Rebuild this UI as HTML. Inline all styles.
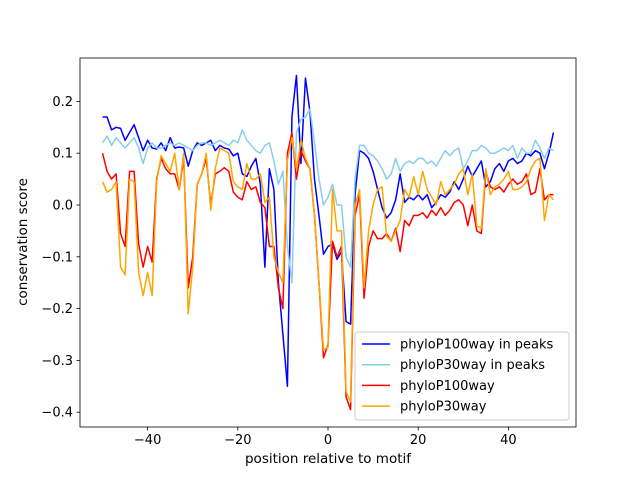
<!DOCTYPE html>
<html><head><meta charset="utf-8"><style>
body{margin:0;background:#fff;}
svg text{font-family:"DejaVu Sans","Liberation Sans",sans-serif;}
</style></head><body>
<svg id="chart" width="640" height="480" xmlns="http://www.w3.org/2000/svg">
<rect width="640" height="480" fill="#fff"/>
<g id="plot"></g>
<g id="axes"></g>
</svg>
<script>
const xStart = -50;
const xTicks = [-40, -20, 0, 20, 40];
const yTicks = [-0.4, -0.3, -0.2, -0.1, 0.0, 0.1, 0.2];
const yTickLabels = ["−0.4","−0.3","−0.2","−0.1","0.0","0.1","0.2"];
const seriesNames = ["phyloP100way in peaks","phyloP30way in peaks","phyloP100way","phyloP30way"];
const seriesColors = ["#0000ff","#87ceeb","#ff0000","#ffa500"];
const p100peaks = [0.17,0.17,0.145,0.15,0.148,0.125,0.14,0.155,0.13,0.105,0.125,0.11,0.108,0.12,0.105,0.13,0.11,0.112,0.11,0.075,0.105,0.12,0.115,0.12,0.125,0.105,0.115,0.11,0.108,0.095,0.1,0.06,0.055,0.075,0.09,0.04,-0.12,0.07,0.03,-0.15,-0.25,-0.35,0.17,0.25,0.08,0.245,0.18,0.05,-0.02,-0.095,-0.08,-0.075,-0.105,-0.09,-0.225,-0.23,0.02,0.105,0.1,0.09,0.065,0.03,-0.005,-0.025,-0.015,0.01,0.06,0.005,0.015,0.01,0.02,0.01,0.02,-0.005,0.005,0.02,0.015,0.025,0.045,0.03,0.05,0.075,0.055,0.07,0.085,0.035,0.045,0.07,0.08,0.065,0.085,0.09,0.08,0.085,0.1,0.095,0.105,0.1,0.07,0.1,0.14];
const p30peaks = [0.12,0.133,0.115,0.13,0.12,0.11,0.12,0.13,0.11,0.08,0.11,0.12,0.11,0.11,0.115,0.12,0.115,0.12,0.115,0.11,0.105,0.115,0.12,0.12,0.115,0.12,0.125,0.12,0.115,0.125,0.12,0.145,0.125,0.115,0.105,0.1,0.115,0.12,0.085,0.04,0.065,-0.08,-0.15,0.14,0.165,0.17,0.185,0.12,0.05,0.0,0.015,0.04,0.0,0.0,-0.1,-0.12,0.05,0.115,0.115,0.1,0.095,0.085,0.07,0.05,0.06,0.09,0.065,0.08,0.085,0.08,0.09,0.09,0.08,0.085,0.075,0.09,0.105,0.095,0.105,0.11,0.07,0.085,0.105,0.105,0.115,0.11,0.1,0.1,0.105,0.11,0.105,0.115,0.09,0.11,0.1,0.1,0.125,0.11,0.09,0.11,0.105];
const p100 = [0.1,0.065,0.05,0.06,-0.055,-0.08,0.065,0.065,-0.075,-0.12,-0.08,-0.11,0.05,0.09,0.07,0.06,0.06,0.03,0.09,-0.16,-0.1,0.04,0.06,0.09,0.0,0.06,0.065,0.072,0.065,0.025,0.015,0.01,0.045,0.03,0.035,0.005,-0.005,-0.08,-0.08,-0.16,-0.2,0.1,0.14,0.05,0.105,0.085,0.07,-0.02,-0.15,-0.295,-0.27,-0.07,-0.1,-0.08,-0.37,-0.395,-0.02,0.02,-0.18,-0.08,-0.05,-0.065,-0.065,-0.055,-0.07,-0.045,-0.09,-0.03,-0.04,-0.02,-0.02,-0.015,-0.025,-0.01,-0.02,-0.005,-0.02,-0.01,0.005,0.01,0.0,-0.04,0.0,-0.05,-0.055,0.065,0.035,0.03,0.035,0.025,0.04,0.05,0.04,0.045,0.06,0.02,0.025,0.07,0.01,0.02,0.02];
const p30 = [0.045,0.025,0.03,0.045,-0.12,-0.135,0.05,0.045,-0.13,-0.175,-0.13,-0.175,0.045,0.095,0.08,0.065,0.1,0.03,0.1,-0.21,-0.12,0.04,0.06,0.1,-0.01,0.07,0.11,0.105,0.1,0.045,0.035,0.03,0.08,0.05,0.05,0.06,0.005,0.015,-0.1,-0.13,-0.15,0.085,0.13,0.07,0.125,0.09,0.07,-0.02,-0.15,-0.28,-0.275,0.03,-0.05,-0.05,-0.36,-0.38,0.0,0.03,-0.16,-0.05,0.0,0.03,0.035,-0.06,-0.07,-0.05,-0.03,0.03,0.015,0.055,0.02,0.065,0.03,0.015,0.0,0.045,0.02,0.03,0.04,0.06,0.07,0.02,0.06,-0.04,-0.045,0.07,0.02,0.035,0.04,0.05,0.065,0.03,0.03,0.035,0.045,0.07,0.085,0.09,-0.03,0.02,0.01];
const allSeries = [p100peaks, p30peaks, p100, p30];

const L=80,R=576,T=58,B=427, xMin=-55,xMax=55,yMin=-0.4286,yMax=0.2838;
const sx = v => L + (v - xMin) / (xMax - xMin) * (R - L);
const sy = v => B - (v - yMin) / (yMax - yMin) * (B - T);
const NS="http://www.w3.org/2000/svg";
const plot=document.getElementById('plot'), axes=document.getElementById('axes');
function mk(tag, attrs, parent){const e=document.createElementNS(NS,tag);for(const k in attrs)e.setAttribute(k,attrs[k]);parent.appendChild(e);return e;}

allSeries.forEach((s,i)=>{
  const pts=s.map((v,j)=>sx(xStart+j).toFixed(2)+','+sy(v).toFixed(2)).join(' ');
  const pl=mk('polyline',{points:pts,fill:'none',stroke:seriesColors[i],'stroke-width':1.5,'stroke-linejoin':'round'},plot);
  
  
});

const frame=mk('rect',{x:L,y:T,width:R-L,height:B-T,fill:'none',stroke:'#000','stroke-width':0.8},axes);



xTicks.forEach(t=>{
  const x=sx(t);
  const tk=mk('line',{x1:x,x2:x,y1:B,y2:B+3.5,stroke:'#000','stroke-width':0.8},axes);
  
  
  const lb=mk('text',{x:x,y:B+17,'text-anchor':'middle','font-size':13,fill:'#000'},axes);
  lb.textContent=t<0?'−'+Math.abs(t):String(t);
  
  
});
yTicks.forEach((t,i)=>{
  const y=sy(t);
  const tk=mk('line',{x1:L-3.5,x2:L,y1:y,y2:y,stroke:'#000','stroke-width':0.8},axes);
  
  
  const lb=mk('text',{x:L-7,y:y+4.5,'text-anchor':'end','font-size':13,fill:'#000'},axes);
  lb.textContent=yTickLabels[i];
  
  
});
const xt=mk('text',{x:(L+R)/2,y:463,'text-anchor':'middle','font-size':13.5},axes);
xt.textContent='position relative to motif';


const yt=mk('text',{x:0,y:0,'text-anchor':'middle','font-size':13.5,transform:'translate(27,242) rotate(-90)'},axes);
yt.textContent='conservation score';



const lg=mk('g',{},axes);


mk('rect',{x:355,y:332,width:214,height:88,rx:3,fill:'#fff','fill-opacity':0.8,stroke:'#ccc'},lg);
seriesNames.forEach((n,i)=>{
  const y=344+i*20.7;
  const ln=mk('line',{x1:362,x2:390,y1:y,y2:y,stroke:seriesColors[i],'stroke-width':1.5},lg);
  
  
  const tx=mk('text',{x:400,y:y+4.5,'font-size':13},lg);
  tx.textContent=n;
  
  
});
</script>
</body></html>
